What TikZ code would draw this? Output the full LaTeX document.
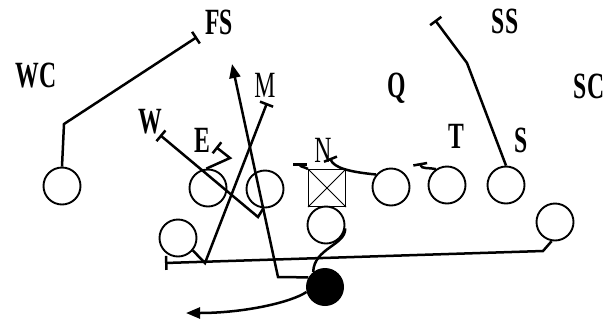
\documentclass[tikz,border=0pt]{standalone}
\usepackage{fontspec}
\setmainfont{Liberation Serif}
\usetikzlibrary{arrows.meta}
\newcommand\plab[1]{\scalebox{0.64}[1]{#1}}
\begin{document}
\begin{tikzpicture}[x=1pt,y=-1pt,
  player/.style={circle,draw,line width=1.9pt,minimum size=37pt,inner sep=0pt},
  ctrbox/.style={rectangle,draw,line width=1.2pt,minimum size=37pt,inner sep=0pt},
  ballnode/.style={circle,fill=black,minimum size=38pt,inner sep=0pt},
  lbl/.style={inner sep=0pt,font=\bfseries\fontsize{37}{37}\selectfont},
  lbln/.style={inner sep=0pt,font=\fontsize{37}{37}\selectfont},
  route/.style={line width=2.5pt,line join=miter},
  blockend/.style={route,-{Bar[width=14pt,line width=2.5pt]}},
  runarrow/.style={route,-{Triangle[length=14pt,width=11pt]}}]
\useasboundingbox (0,0) rectangle (615,325);
% offense
\node[player] (lt) at (62,186) {};
\node[player] (c2) at (208,188) {};
\node[player] (c3) at (265,189) {};
\node[ctrbox] (ctr) at (327,188) {};
\draw[line width=0.9pt] (ctr.north west) -- (ctr.south east) (ctr.north east) -- (ctr.south west);
\node[player] (qb) at (326,225) {};
\node[player] (c5) at (391,187) {};
\node[player] (c6) at (447,185) {};
\node[player] (c7) at (506,185) {};
\node[player] (rt) at (555,222) {};
\node[player] (fb) at (178,238) {};
\node[ballnode] (ball) at (325,287) {};
% defense labels
\node[lbl] (fs) at (219,22) {\plab{FS}};
\node[lbl] (wc) at (36,76) {\plab{WC}};
\node[lbln] (m) at (265,85) {\plab{M}};
\node[lbl] (w) at (150,122) {\plab{W}};
\node[lbl] (e) at (202,140) {\plab{E}};
\node[lbln] (n) at (323,150) {\plab{N}};
\node[lbl] (q) at (397,88) {\plab{Q}};
\node[lbl] (t) at (456,136) {\plab{T}};
\node[lbl] (s) at (521,140) {\plab{S}};
\node[lbl] (ss) at (505,21) {\plab{SS}};
\node[lbl] (sc) at (589,86) {\plab{SC}};
% route points
\coordinate (wcbend) at (64,124);
\coordinate (wcend) at (197,37);
\coordinate (wbend) at (258,217);
\coordinate (wend) at (160,135);
\coordinate (ebend) at (230,158);
\coordinate (eend) at (216,147);
\coordinate (fbbend) at (205,263);
\coordinate (mend) at (267,103);
\coordinate (runbend) at (278,277);
\coordinate (runend) at (232,64);
\coordinate (pitchend) at (186,313);
\coordinate (rtbend) at (543,251);
\coordinate (rtend) at (165,263);
\coordinate (nend1) at (300,163);
\coordinate (nend2) at (330,158);
\coordinate (tend) at (420,163);
\coordinate (ssbend) at (467,63);
\coordinate (ssend) at (435,20);
% routes
\draw[blockend] (lt.north) -- (wcbend) -- (wcend);
\draw[blockend] (c3.-95) -- (wbend) -- (wend);
\draw[blockend] (c2.95) -- (ebend) -- (eend);
\draw[blockend] (fb.-40) -- (fbbend) -- (mend);
\draw[runarrow] (ball.150) -- (runbend) -- (runend);
\draw[runarrow] (ball.195) .. controls (292,302) and (245,313) .. (pitchend);
\draw[route] (qb.-10) .. controls (346,245) and (314,248) .. (ball.128);
\draw[blockend] (rt.-100) -- (rtbend) -- (rtend);
\draw[blockend] (ctr.north west) to[out=150,in=-90] (nend1);
\draw[blockend] (c5.140) .. controls (350,172) and (334,168) .. (nend2);
\draw[blockend] (c6.125) to[out=165,in=-80] (tend);
\draw[blockend] (c7.north) -- (ssbend) -- (ssend);
\end{tikzpicture}
\end{document}
